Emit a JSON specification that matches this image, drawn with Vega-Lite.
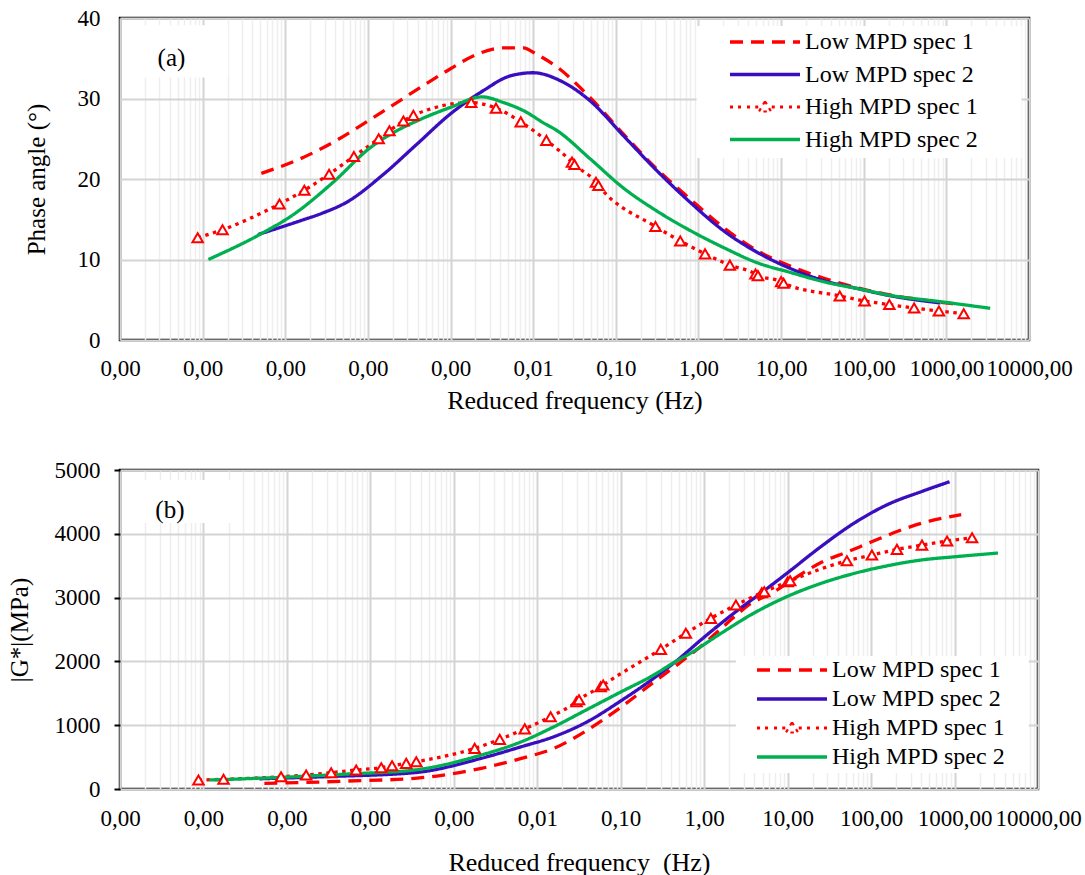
{
  "$schema": "https://vega.github.io/schema/vega-lite/v6.json",
  "background": "white",
  "padding": {"left": 5, "top": 5, "right": 5, "bottom": 3},
  "spacing": 42,
  "resolve": {"scale": {"color": "independent", "strokeDash": "independent"}, "legend": {"color": "independent"}},
  "config": {
    "font": "Liberation Serif",
    "view": {"stroke": "black", "strokeWidth": 2.5},
    "axis": {"labelFont": "Liberation Serif", "titleFont": "Liberation Serif", "labelColor": "black", "titleColor": "black", "titleFontWeight": "normal", "labelFontSize": 23, "titleFontSize": 25}
  },
  "datasets": {
    "phase": [
      {"s": "Low MPD spec 1", "f": 5.13e-6, "v": 20.7},
      {"s": "Low MPD spec 1", "f": 1.51e-5, "v": 22.5},
      {"s": "Low MPD spec 1", "f": 4.17e-5, "v": 24.8},
      {"s": "Low MPD spec 1", "f": 1.07e-4, "v": 27.4},
      {"s": "Low MPD spec 1", "f": 2.24e-4, "v": 29.5},
      {"s": "Low MPD spec 1", "f": 4.68e-4, "v": 31.6},
      {"s": "Low MPD spec 1", "f": 1.0e-3, "v": 33.7},
      {"s": "Low MPD spec 1", "f": 2.09e-3, "v": 35.5},
      {"s": "Low MPD spec 1", "f": 4.37e-3, "v": 36.3},
      {"s": "Low MPD spec 1", "f": 7.59e-3, "v": 36.3},
      {"s": "Low MPD spec 1", "f": 0.01096, "v": 35.5},
      {"s": "Low MPD spec 1", "f": 0.0195, "v": 33.9},
      {"s": "Low MPD spec 1", "f": 0.049, "v": 30.1},
      {"s": "Low MPD spec 1", "f": 0.123, "v": 25.6},
      {"s": "Low MPD spec 1", "f": 0.3162, "v": 21.2},
      {"s": "Low MPD spec 1", "f": 0.794, "v": 17.5},
      {"s": "Low MPD spec 1", "f": 1.995, "v": 14.0},
      {"s": "Low MPD spec 1", "f": 5.129, "v": 11.1},
      {"s": "Low MPD spec 1", "f": 12.88, "v": 9.2},
      {"s": "Low MPD spec 1", "f": 32.36, "v": 7.7},
      {"s": "Low MPD spec 1", "f": 83.18, "v": 6.5},
      {"s": "Low MPD spec 1", "f": 208.9, "v": 5.6},
      {"s": "Low MPD spec 1", "f": 501.2, "v": 5.0},
      {"s": "Low MPD spec 1", "f": 1202, "v": 4.5},
      {"s": "Low MPD spec 2", "f": 4.68e-6, "v": 13.1},
      {"s": "Low MPD spec 2", "f": 1.51e-5, "v": 14.8},
      {"s": "Low MPD spec 2", "f": 2.88e-5, "v": 15.8},
      {"s": "Low MPD spec 2", "f": 5.5e-5, "v": 17.1},
      {"s": "Low MPD spec 2", "f": 1.55e-4, "v": 20.6},
      {"s": "Low MPD spec 2", "f": 3.89e-4, "v": 24.3},
      {"s": "Low MPD spec 2", "f": 1.0e-3, "v": 28.1},
      {"s": "Low MPD spec 2", "f": 2.51e-3, "v": 31.0},
      {"s": "Low MPD spec 2", "f": 5.25e-3, "v": 32.8},
      {"s": "Low MPD spec 2", "f": 0.01, "v": 33.2},
      {"s": "Low MPD spec 2", "f": 0.0214, "v": 32.2},
      {"s": "Low MPD spec 2", "f": 0.049, "v": 29.7},
      {"s": "Low MPD spec 2", "f": 0.123, "v": 25.4},
      {"s": "Low MPD spec 2", "f": 0.3162, "v": 21.0},
      {"s": "Low MPD spec 2", "f": 0.794, "v": 17.1},
      {"s": "Low MPD spec 2", "f": 1.995, "v": 13.6},
      {"s": "Low MPD spec 2", "f": 5.129, "v": 10.9},
      {"s": "Low MPD spec 2", "f": 12.88, "v": 8.9},
      {"s": "Low MPD spec 2", "f": 32.36, "v": 7.4},
      {"s": "Low MPD spec 2", "f": 83.18, "v": 6.4},
      {"s": "Low MPD spec 2", "f": 208.9, "v": 5.5},
      {"s": "Low MPD spec 2", "f": 851.1, "v": 4.6},
      {"s": "High MPD spec 1", "f": 8.71e-7, "v": 12.7},
      {"s": "High MPD spec 1", "f": 1.74e-6, "v": 13.7},
      {"s": "High MPD spec 1", "f": 8.51e-6, "v": 16.9},
      {"s": "High MPD spec 1", "f": 1.70e-5, "v": 18.6},
      {"s": "High MPD spec 1", "f": 3.39e-5, "v": 20.6},
      {"s": "High MPD spec 1", "f": 6.76e-5, "v": 22.8},
      {"s": "High MPD spec 1", "f": 1.35e-4, "v": 25.0},
      {"s": "High MPD spec 1", "f": 1.82e-4, "v": 26.0},
      {"s": "High MPD spec 1", "f": 2.69e-4, "v": 27.2},
      {"s": "High MPD spec 1", "f": 3.55e-4, "v": 27.9},
      {"s": "High MPD spec 1", "f": 1.778e-3, "v": 29.5},
      {"s": "High MPD spec 1", "f": 3.55e-3, "v": 28.8},
      {"s": "High MPD spec 1", "f": 7.08e-3, "v": 27.1},
      {"s": "High MPD spec 1", "f": 0.01445, "v": 24.8},
      {"s": "High MPD spec 1", "f": 0.02951, "v": 22.1},
      {"s": "High MPD spec 1", "f": 0.03162, "v": 21.8},
      {"s": "High MPD spec 1", "f": 0.05754, "v": 19.6},
      {"s": "High MPD spec 1", "f": 0.06166, "v": 19.2},
      {"s": "High MPD spec 1", "f": 0.302, "v": 14.1},
      {"s": "High MPD spec 1", "f": 0.6026, "v": 12.3},
      {"s": "High MPD spec 1", "f": 1.202, "v": 10.7},
      {"s": "High MPD spec 1", "f": 2.399, "v": 9.3},
      {"s": "High MPD spec 1", "f": 4.898, "v": 8.2},
      {"s": "High MPD spec 1", "f": 5.248, "v": 8.0},
      {"s": "High MPD spec 1", "f": 10.0, "v": 7.25},
      {"s": "High MPD spec 1", "f": 10.72, "v": 7.05},
      {"s": "High MPD spec 1", "f": 51.29, "v": 5.47},
      {"s": "High MPD spec 1", "f": 102.3, "v": 4.85},
      {"s": "High MPD spec 1", "f": 204.2, "v": 4.4},
      {"s": "High MPD spec 1", "f": 407.4, "v": 3.97},
      {"s": "High MPD spec 1", "f": 812.8, "v": 3.6},
      {"s": "High MPD spec 1", "f": 1622, "v": 3.27},
      {"s": "High MPD spec 2", "f": 1.175e-6, "v": 10.0},
      {"s": "High MPD spec 2", "f": 4.90e-6, "v": 13.1},
      {"s": "High MPD spec 2", "f": 1.26e-5, "v": 15.6},
      {"s": "High MPD spec 2", "f": 3.80e-5, "v": 19.6},
      {"s": "High MPD spec 2", "f": 1.07e-4, "v": 23.9},
      {"s": "High MPD spec 2", "f": 2.24e-4, "v": 26.0},
      {"s": "High MPD spec 2", "f": 3.89e-4, "v": 27.2},
      {"s": "High MPD spec 2", "f": 1.0e-3, "v": 28.9},
      {"s": "High MPD spec 2", "f": 2.40e-3, "v": 30.2},
      {"s": "High MPD spec 2", "f": 4.37e-3, "v": 29.5},
      {"s": "High MPD spec 2", "f": 7.94e-3, "v": 28.4},
      {"s": "High MPD spec 2", "f": 0.0132, "v": 27.0},
      {"s": "High MPD spec 2", "f": 0.0195, "v": 26.0},
      {"s": "High MPD spec 2", "f": 0.049, "v": 22.5},
      {"s": "High MPD spec 2", "f": 0.123, "v": 18.9},
      {"s": "High MPD spec 2", "f": 0.3162, "v": 16.0},
      {"s": "High MPD spec 2", "f": 0.794, "v": 13.6},
      {"s": "High MPD spec 2", "f": 1.995, "v": 11.5},
      {"s": "High MPD spec 2", "f": 5.129, "v": 9.6},
      {"s": "High MPD spec 2", "f": 12.88, "v": 8.4},
      {"s": "High MPD spec 2", "f": 32.36, "v": 7.25},
      {"s": "High MPD spec 2", "f": 83.18, "v": 6.4},
      {"s": "High MPD spec 2", "f": 208.9, "v": 5.55},
      {"s": "High MPD spec 2", "f": 851.1, "v": 4.76},
      {"s": "High MPD spec 2", "f": 3388, "v": 3.94}
    ],
    "modulus": [
      {"s": "Low MPD spec 1", "f": 5.37e-6, "v": 89},
      {"s": "Low MPD spec 1", "f": 1.35e-5, "v": 99},
      {"s": "Low MPD spec 1", "f": 5.37e-5, "v": 125},
      {"s": "Low MPD spec 1", "f": 3.39e-4, "v": 167},
      {"s": "Low MPD spec 1", "f": 2.14e-3, "v": 324},
      {"s": "Low MPD spec 1", "f": 6.46e-3, "v": 480},
      {"s": "Low MPD spec 1", "f": 0.01585, "v": 637},
      {"s": "Low MPD spec 1", "f": 0.0398, "v": 924},
      {"s": "Low MPD spec 1", "f": 0.1, "v": 1280},
      {"s": "Low MPD spec 1", "f": 0.2512, "v": 1680},
      {"s": "Low MPD spec 1", "f": 0.501, "v": 1970},
      {"s": "Low MPD spec 1", "f": 1.0, "v": 2280},
      {"s": "Low MPD spec 1", "f": 1.549, "v": 2500},
      {"s": "Low MPD spec 1", "f": 2.512, "v": 2740},
      {"s": "Low MPD spec 1", "f": 3.548, "v": 2900},
      {"s": "Low MPD spec 1", "f": 5.012, "v": 3000},
      {"s": "Low MPD spec 1", "f": 7.079, "v": 3100},
      {"s": "Low MPD spec 1", "f": 10.0, "v": 3230},
      {"s": "Low MPD spec 1", "f": 15.85, "v": 3400},
      {"s": "Low MPD spec 1", "f": 25.12, "v": 3550},
      {"s": "Low MPD spec 1", "f": 52.48, "v": 3718},
      {"s": "Low MPD spec 1", "f": 100, "v": 3870},
      {"s": "Low MPD spec 1", "f": 229.1, "v": 4059},
      {"s": "Low MPD spec 1", "f": 501.2, "v": 4200},
      {"s": "Low MPD spec 1", "f": 1202, "v": 4300},
      {"s": "Low MPD spec 2", "f": 4.68e-6, "v": 160},
      {"s": "Low MPD spec 2", "f": 3.16e-5, "v": 195},
      {"s": "Low MPD spec 2", "f": 3.39e-4, "v": 256},
      {"s": "Low MPD spec 2", "f": 2.14e-3, "v": 481},
      {"s": "Low MPD spec 2", "f": 6.46e-3, "v": 663},
      {"s": "Low MPD spec 2", "f": 0.01585, "v": 820},
      {"s": "Low MPD spec 2", "f": 0.0398, "v": 1055},
      {"s": "Low MPD spec 2", "f": 0.1, "v": 1380},
      {"s": "Low MPD spec 2", "f": 0.2512, "v": 1740},
      {"s": "Low MPD spec 2", "f": 0.457, "v": 2000},
      {"s": "Low MPD spec 2", "f": 1.0, "v": 2380},
      {"s": "Low MPD spec 2", "f": 2.512, "v": 2800},
      {"s": "Low MPD spec 2", "f": 5.012, "v": 3090},
      {"s": "Low MPD spec 2", "f": 10.0, "v": 3390},
      {"s": "Low MPD spec 2", "f": 25.12, "v": 3800},
      {"s": "Low MPD spec 2", "f": 63.1, "v": 4170},
      {"s": "Low MPD spec 2", "f": 158.5, "v": 4460},
      {"s": "Low MPD spec 2", "f": 398.1, "v": 4660},
      {"s": "Low MPD spec 2", "f": 871, "v": 4816},
      {"s": "High MPD spec 1", "f": 8.71e-7, "v": 141},
      {"s": "High MPD spec 1", "f": 1.74e-6, "v": 152},
      {"s": "High MPD spec 1", "f": 8.51e-6, "v": 193},
      {"s": "High MPD spec 1", "f": 1.70e-5, "v": 219},
      {"s": "High MPD spec 1", "f": 3.39e-5, "v": 256},
      {"s": "High MPD spec 1", "f": 6.76e-5, "v": 298},
      {"s": "High MPD spec 1", "f": 1.35e-4, "v": 334},
      {"s": "High MPD spec 1", "f": 1.82e-4, "v": 365},
      {"s": "High MPD spec 1", "f": 2.69e-4, "v": 402},
      {"s": "High MPD spec 1", "f": 3.55e-4, "v": 428},
      {"s": "High MPD spec 1", "f": 1.778e-3, "v": 637},
      {"s": "High MPD spec 1", "f": 3.55e-3, "v": 778},
      {"s": "High MPD spec 1", "f": 7.08e-3, "v": 943},
      {"s": "High MPD spec 1", "f": 0.01445, "v": 1133},
      {"s": "High MPD spec 1", "f": 0.02951, "v": 1368},
      {"s": "High MPD spec 1", "f": 0.03162, "v": 1400},
      {"s": "High MPD spec 1", "f": 0.05754, "v": 1603},
      {"s": "High MPD spec 1", "f": 0.06166, "v": 1630},
      {"s": "High MPD spec 1", "f": 0.302, "v": 2189},
      {"s": "High MPD spec 1", "f": 0.6026, "v": 2440},
      {"s": "High MPD spec 1", "f": 1.202, "v": 2675},
      {"s": "High MPD spec 1", "f": 2.399, "v": 2883},
      {"s": "High MPD spec 1", "f": 4.898, "v": 3076},
      {"s": "High MPD spec 1", "f": 5.248, "v": 3092},
      {"s": "High MPD spec 1", "f": 10.0, "v": 3248},
      {"s": "High MPD spec 1", "f": 10.72, "v": 3264},
      {"s": "High MPD spec 1", "f": 51.29, "v": 3577},
      {"s": "High MPD spec 1", "f": 102.3, "v": 3667},
      {"s": "High MPD spec 1", "f": 204.2, "v": 3756},
      {"s": "High MPD spec 1", "f": 407.4, "v": 3823},
      {"s": "High MPD spec 1", "f": 812.8, "v": 3886},
      {"s": "High MPD spec 1", "f": 1622, "v": 3938},
      {"s": "High MPD spec 2", "f": 1.175e-6, "v": 141},
      {"s": "High MPD spec 2", "f": 8.51e-6, "v": 183},
      {"s": "High MPD spec 2", "f": 5.37e-5, "v": 235},
      {"s": "High MPD spec 2", "f": 3.39e-4, "v": 298},
      {"s": "High MPD spec 2", "f": 2.14e-3, "v": 533},
      {"s": "High MPD spec 2", "f": 6.46e-3, "v": 741},
      {"s": "High MPD spec 2", "f": 0.01585, "v": 976},
      {"s": "High MPD spec 2", "f": 0.0398, "v": 1248},
      {"s": "High MPD spec 2", "f": 0.1, "v": 1520},
      {"s": "High MPD spec 2", "f": 0.2512, "v": 1790},
      {"s": "High MPD spec 2", "f": 0.457, "v": 2000},
      {"s": "High MPD spec 2", "f": 0.631, "v": 2100},
      {"s": "High MPD spec 2", "f": 1.549, "v": 2430},
      {"s": "High MPD spec 2", "f": 3.981, "v": 2760},
      {"s": "High MPD spec 2", "f": 10.0, "v": 3020},
      {"s": "High MPD spec 2", "f": 25.12, "v": 3223},
      {"s": "High MPD spec 2", "f": 63.1, "v": 3380},
      {"s": "High MPD spec 2", "f": 158.5, "v": 3500},
      {"s": "High MPD spec 2", "f": 398.1, "v": 3589},
      {"s": "High MPD spec 2", "f": 1000, "v": 3640},
      {"s": "High MPD spec 2", "f": 3311, "v": 3698}
    ]
  },
  "vconcat": [
    {
      "width": 909,
      "height": 322,
      "layer": [
        {
          "data": {"name": "phase"},
          "mark": {"type": "line", "interpolate": "monotone", "strokeWidth": 3.3},
          "encoding": {
            "x": {
              "field": "f", "type": "quantitative",
              "scale": {"type": "log", "domain": [1e-7, 10000], "nice": false},
              "axis": {
                "title": "Reduced frequency (Hz)",
                "titleFontSize": 26,
                "values": [1e-7,2e-7,3e-7,4e-7,5e-7,6e-7,7e-7,8e-7,9e-7,1e-6,2e-6,3e-6,4e-6,5e-6,6e-6,7e-6,8e-6,9e-6,1e-5,2e-5,3e-5,4e-5,5e-5,6e-5,7e-5,8e-5,9e-5,1e-4,2e-4,3e-4,4e-4,5e-4,6e-4,7e-4,8e-4,9e-4,0.001,0.002,0.003,0.004,0.005,0.006,0.007,0.008,0.009,0.01,0.02,0.03,0.04,0.05,0.06,0.07,0.08,0.09,0.1,0.2,0.3,0.4,0.5,0.6,0.7,0.8,0.9,1,2,3,4,5,6,7,8,9,10,20,30,40,50,60,70,80,90,100,200,300,400,500,600,700,800,900,1000,2000,3000,4000,5000,6000,7000,8000,9000,10000],
                "labelExpr": "abs(log(datum.value)/LN10 - round(log(datum.value)/LN10)) < 0.001 ? replace(format(datum.value, '.2f'), '.', ',') : ''",
                "labelOverlap": false,
                "labelFlush": false,
                "ticks": false,
                "domain": false,
                "gridColor": {"condition": {"test": "abs(log(datum.value)/LN10 - round(log(datum.value)/LN10)) < 0.001", "value": "#d4d4d4"}, "value": "#eeeeee"},
                "gridWidth": {"condition": {"test": "abs(log(datum.value)/LN10 - round(log(datum.value)/LN10)) < 0.001", "value": 2}, "value": 1.5},
                "labelPadding": 17,
                "titlePadding": 7
              }
            },
            "y": {
              "field": "v", "type": "quantitative",
              "scale": {"domain": [0, 40], "nice": false},
              "axis": {"title": "Phase angle (°)", "values": [0, 10, 20, 30, 40], "ticks": false, "domain": false, "gridColor": "#d4d4d4", "gridWidth": 2, "labelPadding": 20, "titlePadding": 28}
            },
            "color": {
              "field": "s", "type": "nominal",
              "scale": {"domain": ["Low MPD spec 1", "Low MPD spec 2", "High MPD spec 1", "High MPD spec 2"], "range": ["#ff0000", "#3a0ebf", "#ff0000", "#00b050"]},
              "legend": {
                "orient": "none", "legendX": 633, "legendY": 12, "title": null,
                "symbolType": "M-7,0H7", "symbolSize": 100, "symbolStrokeWidth": 3.5,
                "labelFont": "Liberation Serif", "labelFontSize": 24, "labelColor": "black", "labelLimit": 400,
                "labelOffset": 28, "rowPadding": 8.5, "padding": 0,
                "encode": {"symbols": {"update": {
                  "shape": {"signal": "datum.value === 'High MPD spec 1' ? 'M-7,-0.1H-6.4M-5.4,-0.1H-4.8M-3.6,-0.1H-3M-1.95,-0.1H-1.35M1.35,-0.1H1.95M3,-0.1H3.6M4.8,-0.1H5.4M6.4,-0.1H7M-7,0.1H-6.4M-5.4,0.1H-4.8M-3.6,0.1H-3M-1.95,0.1H-1.35M1.35,0.1H1.95M3,0.1H3.6M4.8,0.1H5.4M6.4,0.1H7M0,-1.15L1.2,0.9L-1.2,0.9Z' : 'M-7,0H7'"},
                  "strokeDash": {"signal": "datum.value === 'Low MPD spec 1' ? [16, 10] : [1, 0]"},
                  "strokeWidth": {"signal": "datum.value === 'High MPD spec 1' ? 2.2 : 3.5"},
                  "fill": {"value": "white"}
                }}}
              }
            },
            "strokeDash": {
              "field": "s", "type": "nominal",
              "scale": {"domain": ["Low MPD spec 1", "Low MPD spec 2", "High MPD spec 1", "High MPD spec 2"], "range": [[13, 8], [1, 0], [3.5, 4.5], [1, 0]]},
              "legend": null
            }
          }
        },
        {
          "data": {"values": [{}]},
          "mark": {"type": "rect", "color": "white"},
          "encoding": {
            "x": {"datum": 1.9e-7, "type": "quantitative"},
            "x2": {"datum": 2.04e-6},
            "y": {"datum": 39.1, "type": "quantitative"},
            "y2": {"datum": 32.6}
          }
        },
        {
          "data": {"values": [{}]},
          "mark": {"type": "rect", "color": "white"},
          "encoding": {
            "x": {"datum": 0.95, "type": "quantitative"},
            "x2": {"datum": 8130},
            "y": {"datum": 39.0, "type": "quantitative"},
            "y2": {"datum": 22.6}
          }
        },
        {
          "data": {"values": [{}]},
          "mark": {"type": "text", "text": "(a)", "font": "Liberation Serif", "fontSize": 25, "align": "left", "baseline": "middle", "color": "black"},
          "encoding": {
            "x": {"datum": 2.85e-7, "type": "quantitative"},
            "y": {"datum": 35.0, "type": "quantitative"}
          }
        },
        {
          "data": {"name": "phase"},
          "transform": [{"filter": "datum.s === 'High MPD spec 1'"}],
          "mark": {"type": "point", "shape": "triangle-up", "size": 110, "filled": true, "fill": "white", "stroke": "#ff0000", "strokeWidth": 2, "opacity": 1},
          "encoding": {
            "x": {"field": "f", "type": "quantitative"},
            "y": {"field": "v", "type": "quantitative"}
          }
        }
      ]
    },
    {
      "width": 918,
      "height": 319,
      "layer": [
        {
          "data": {"name": "modulus"},
          "mark": {"type": "line", "interpolate": "monotone", "strokeWidth": 3.3},
          "encoding": {
            "x": {
              "field": "f", "type": "quantitative",
              "scale": {"type": "log", "domain": [1e-7, 10000], "nice": false},
              "axis": {
                "title": "Reduced frequency \u00a0(Hz)",
                "titleFontSize": 26,
                "values": [1e-7,2e-7,3e-7,4e-7,5e-7,6e-7,7e-7,8e-7,9e-7,1e-6,2e-6,3e-6,4e-6,5e-6,6e-6,7e-6,8e-6,9e-6,1e-5,2e-5,3e-5,4e-5,5e-5,6e-5,7e-5,8e-5,9e-5,1e-4,2e-4,3e-4,4e-4,5e-4,6e-4,7e-4,8e-4,9e-4,0.001,0.002,0.003,0.004,0.005,0.006,0.007,0.008,0.009,0.01,0.02,0.03,0.04,0.05,0.06,0.07,0.08,0.09,0.1,0.2,0.3,0.4,0.5,0.6,0.7,0.8,0.9,1,2,3,4,5,6,7,8,9,10,20,30,40,50,60,70,80,90,100,200,300,400,500,600,700,800,900,1000,2000,3000,4000,5000,6000,7000,8000,9000,10000],
                "labelExpr": "abs(log(datum.value)/LN10 - round(log(datum.value)/LN10)) < 0.001 ? replace(format(datum.value, '.2f'), '.', ',') : ''",
                "labelOverlap": false,
                "labelFlush": false,
                "ticks": false,
                "domain": false,
                "gridColor": {"condition": {"test": "abs(log(datum.value)/LN10 - round(log(datum.value)/LN10)) < 0.001", "value": "#d4d4d4"}, "value": "#eeeeee"},
                "gridWidth": {"condition": {"test": "abs(log(datum.value)/LN10 - round(log(datum.value)/LN10)) < 0.001", "value": 2}, "value": 1.5},
                "labelPadding": 18,
                "titlePadding": 19
              }
            },
            "y": {
              "field": "v", "type": "quantitative",
              "scale": {"domain": [0, 5000], "nice": false},
              "axis": {
                "title": "|G*|(MPa)",
                "titleFontSize": 25,
                "values": [0, 500, 1000, 1500, 2000, 2500, 3000, 3500, 4000, 4500, 5000],
                "labelExpr": "datum.value % 1000 === 0 ? format(datum.value, 'd') : ''",
                "ticks": true, "tickSize": 6, "tickColor": "black", "tickWidth": 2,
                "domain": false,
                "gridColor": {"condition": {"test": "datum.value % 1000 === 0", "value": "#d4d4d4"}, "value": "#eeeeee"},
                "gridWidth": {"condition": {"test": "datum.value % 1000 === 0", "value": 2}, "value": 1.5},
                "labelPadding": 14,
                "titlePadding": 22
              }
            },
            "color": {
              "field": "s", "type": "nominal",
              "scale": {"domain": ["Low MPD spec 1", "Low MPD spec 2", "High MPD spec 1", "High MPD spec 2"], "range": ["#ff0000", "#3a0ebf", "#ff0000", "#00b050"]},
              "legend": {
                "orient": "none", "legendX": 660, "legendY": 188, "title": null,
                "symbolType": "M-7,0H7", "symbolSize": 100, "symbolStrokeWidth": 3.5,
                "labelFont": "Liberation Serif", "labelFontSize": 24, "labelColor": "black", "labelLimit": 400,
                "labelOffset": 28, "rowPadding": 5, "padding": 0,
                "encode": {"symbols": {"update": {
                  "shape": {"signal": "datum.value === 'High MPD spec 1' ? 'M-7,-0.1H-6.4M-5.4,-0.1H-4.8M-3.6,-0.1H-3M-1.95,-0.1H-1.35M1.35,-0.1H1.95M3,-0.1H3.6M4.8,-0.1H5.4M6.4,-0.1H7M-7,0.1H-6.4M-5.4,0.1H-4.8M-3.6,0.1H-3M-1.95,0.1H-1.35M1.35,0.1H1.95M3,0.1H3.6M4.8,0.1H5.4M6.4,0.1H7M0,-1.15L1.2,0.9L-1.2,0.9Z' : 'M-7,0H7'"},
                  "strokeDash": {"signal": "datum.value === 'Low MPD spec 1' ? [16, 10] : [1, 0]"},
                  "strokeWidth": {"signal": "datum.value === 'High MPD spec 1' ? 2.2 : 3.5"},
                  "fill": {"value": "white"}
                }}}
              }
            },
            "strokeDash": {
              "field": "s", "type": "nominal",
              "scale": {"domain": ["Low MPD spec 1", "Low MPD spec 2", "High MPD spec 1", "High MPD spec 2"], "range": [[13, 8], [1, 0], [3.5, 4.5], [1, 0]]},
              "legend": null
            }
          }
        },
        {
          "data": {"values": [{}]},
          "mark": {"type": "rect", "color": "white"},
          "encoding": {
            "x": {"datum": 1.57e-7, "type": "quantitative"},
            "x2": {"datum": 2.47e-6},
            "y": {"datum": 4842, "type": "quantitative"},
            "y2": {"datum": 4168}
          }
        },
        {
          "data": {"values": [{}]},
          "mark": {"type": "rect", "color": "white"},
          "encoding": {
            "x": {"datum": 2.4, "type": "quantitative"},
            "x2": {"datum": 7760},
            "y": {"datum": 2084, "type": "quantitative"},
            "y2": {"datum": 251}
          }
        },
        {
          "data": {"values": [{}]},
          "mark": {"type": "text", "text": "(b)", "font": "Liberation Serif", "fontSize": 25, "align": "left", "baseline": "middle", "color": "black"},
          "encoding": {
            "x": {"datum": 2.65e-7, "type": "quantitative"},
            "y": {"datum": 4380, "type": "quantitative"}
          }
        },
        {
          "data": {"name": "modulus"},
          "transform": [{"filter": "datum.s === 'High MPD spec 1'"}],
          "mark": {"type": "point", "shape": "triangle-up", "size": 110, "filled": true, "fill": "white", "stroke": "#ff0000", "strokeWidth": 2, "opacity": 1},
          "encoding": {
            "x": {"field": "f", "type": "quantitative"},
            "y": {"field": "v", "type": "quantitative"}
          }
        }
      ]
    }
  ]
}
